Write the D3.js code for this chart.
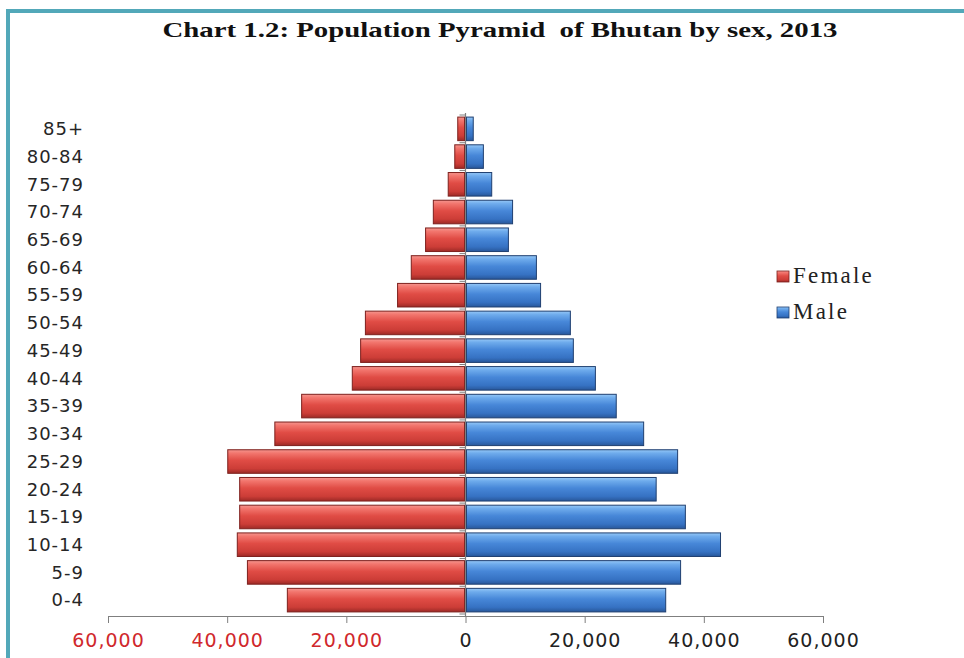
<!DOCTYPE html>
<html>
<head>
<meta charset="utf-8">
<script src="https://cdn.jsdelivr.net/npm/d3@7"></script>
<style>
  body { margin: 0; background: #fff; }
  svg { display: block; }
</style>
</head>
<body>
<div id="chart"></div>
<script>
// DATA
var ageGroups = ["0-4", "5-9", "10-14", "15-19", "20-24", "25-29", "30-34", "35-39", "40-44",
  "45-49", "50-54", "55-59", "60-64", "65-69", "70-74", "75-79", "80-84", "85+"];
var female = [29900, 36600, 38300, 37900, 37900, 39900, 32000, 27500, 19000,
  17600, 16800, 11400, 9100, 6700, 5400, 2900, 1800, 1300];
var male = [33600, 36100, 42800, 36900, 32000, 35600, 29900, 25300, 21800,
  18100, 17600, 12600, 11900, 7200, 7900, 4400, 3000, 1300];
var xTicks = [-60000, -40000, -20000, 0, 20000, 40000, 60000];
var seriesNames = ["Female", "Male"];

var w = 964;
var h = 658;

var svg = d3.select("#chart").append("svg").attr("width", w).attr("height", h);

// GRADIENTS for the bevelled bar look
var defs = svg.append("defs");
function makeGrad(id, stops) {
  var g = defs.append("linearGradient").attr("id", id)
    .attr("x1", 0).attr("y1", 0).attr("x2", 0).attr("y2", 1);
  stops.forEach(function (s) {
    g.append("stop").attr("offset", s[0]).attr("stop-color", s[1]);
  });
}
makeGrad("redGrad", [[0, "#f5968f"], [0.15, "#f2756d"], [0.45, "#e04c45"], [0.8, "#cc3d37"], [1, "#9c2a26"]]);
makeGrad("blueGrad", [[0, "#96c8f7"], [0.15, "#6eabec"], [0.45, "#4787d8"], [0.8, "#3672c3"], [1, "#28579a"]]);

// FRAME
svg.append("rect").attr("x", 6).attr("y", 9).attr("width", w).attr("height", 4).attr("fill", "#52a8b9");
svg.append("rect").attr("x", 6).attr("y", 9).attr("width", 4).attr("height", h).attr("fill", "#52a8b9");

// TITLE
svg.append("text")
  .attr("x", 500)
  .attr("y", 37)
  .attr("text-anchor", "middle")
  .attr("font-family", "Liberation Serif, serif")
  .attr("font-weight", "bold")
  .attr("font-size", "22px")
  .attr("fill", "#111")
  .attr("textLength", 675)
  .attr("lengthAdjust", "spacingAndGlyphs")
  .style("white-space", "pre")
  .text("Chart 1.2: Population Pyramid  of Bhutan by sex, 2013");

// SCALES
var xScale = d3.scaleLinear()
  .domain([-60000, 60000])
  .range([108, 823]);
var yScale = d3.scaleBand()
  .domain(ageGroups.slice().reverse())
  .range([115, 614])
  .paddingInner(0.15)
  .paddingOuter(0.075);

var axisY = 616;
var x0 = xScale(0);

// BARS
var rows = ageGroups.map(function (a, i) {
  return { age: a, female: female[i], male: male[i] };
});

svg.selectAll(".fbar")
  .data(rows)
  .enter()
  .append("rect")
  .attr("class", "fbar")
  .attr("x", function (d) { return xScale(-d.female); })
  .attr("y", function (d) { return yScale(d.age); })
  .attr("width", function (d) { return x0 - 1 - xScale(-d.female); })
  .attr("height", yScale.bandwidth())
  .attr("fill", "url(#redGrad)")
  .attr("stroke", "#7d201d")
  .attr("stroke-width", 1);

svg.selectAll(".mbar")
  .data(rows)
  .enter()
  .append("rect")
  .attr("class", "mbar")
  .attr("x", x0 + 1)
  .attr("y", function (d) { return yScale(d.age); })
  .attr("width", function (d) { return xScale(d.male) - x0 - 1; })
  .attr("height", yScale.bandwidth())
  .attr("fill", "url(#blueGrad)")
  .attr("stroke", "#1f3f70")
  .attr("stroke-width", 1);

// VERTICAL ZERO AXIS with small ticks between bands
svg.append("line")
  .attr("x1", x0).attr("x2", x0)
  .attr("y1", 113).attr("y2", axisY)
  .attr("stroke", "#7f7f7f")
  .attr("stroke-width", 1.2);
var step = yScale.step();
svg.selectAll(".ytick")
  .data(d3.range(ageGroups.length + 1))
  .enter()
  .append("line")
  .attr("x1", x0 - 6).attr("x2", x0)
  .attr("y1", function (i) { return 115 + i * step; })
  .attr("y2", function (i) { return 115 + i * step; })
  .attr("stroke", "#7f7f7f");

// CATEGORY LABELS
svg.selectAll(".ylab")
  .data(ageGroups)
  .enter()
  .append("text")
  .attr("x", 84)
  .attr("y", function (d) { return yScale(d) + yScale.bandwidth() / 2; })
  .attr("dy", "0.35em")
  .attr("text-anchor", "end")
  .attr("font-family", "DejaVu Sans, sans-serif")
  .attr("font-size", "18px")
  .attr("letter-spacing", "1px")
  .attr("fill", "#262626")
  .text(function (d) { return d; });

// BOTTOM AXIS
var xAxis = d3.axisBottom()
  .scale(xScale)
  .tickValues(xTicks)
  .tickSize(7)
  .tickPadding(11)
  .tickSizeOuter(0)
  .tickFormat(function (d) { return d3.format(",")(Math.abs(d)); });

var gx = svg.append("g")
  .attr("class", "axis")
  .attr("transform", "translate(0," + axisY + ")")
  .call(xAxis);
gx.select(".domain").attr("stroke", "#7f7f7f");
gx.selectAll(".tick line").attr("stroke", "#7f7f7f");
gx.selectAll(".tick text")
  .attr("font-family", "DejaVu Sans, sans-serif")
  .attr("font-size", "19px")
  .attr("letter-spacing", "1px")
  .attr("fill", function (d) { return d < 0 ? "#d0282c" : "#222"; });

// LEGEND
var legendColors = ["url(#redGrad)", "url(#blueGrad)"];
var legendStroke = ["#7d201d", "#1f3f70"];
var legend = svg.selectAll(".legend")
  .data(seriesNames)
  .enter()
  .append("g")
  .attr("transform", function (d, i) { return "translate(777," + (271 + i * 36) + ")"; });
legend.append("rect")
  .attr("width", 12).attr("height", 11)
  .attr("fill", function (d, i) { return legendColors[i]; })
  .attr("stroke", function (d, i) { return legendStroke[i]; })
  .attr("stroke-width", 0.8);
legend.append("text")
  .attr("x", 16)
  .attr("y", 12)
  .attr("font-family", "Liberation Serif, serif")
  .attr("font-size", "23px")
  .attr("fill", "#222")
  .attr("letter-spacing", "2.2px")
  .text(function (d) { return d; });
</script>
</body>
</html>
